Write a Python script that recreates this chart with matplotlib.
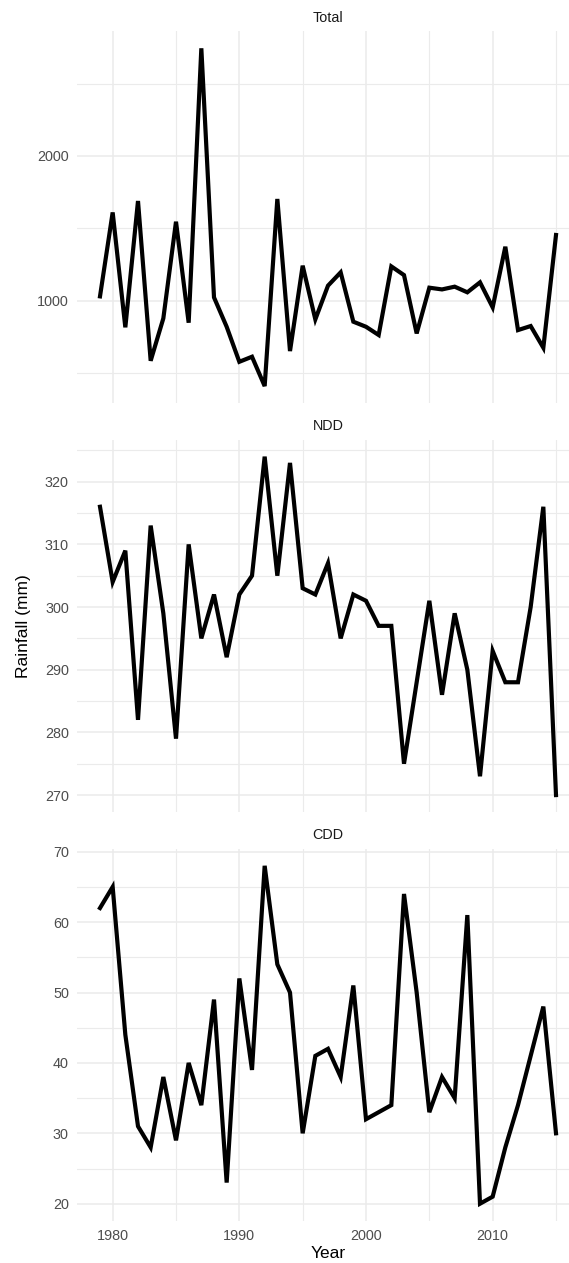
import matplotlib
matplotlib.use("Agg")
import matplotlib.pyplot as plt
from matplotlib.ticker import MultipleLocator

plt.rcParams['font.family'] = ['Liberation Sans', 'DejaVu Sans']

# donnees
years = list(range(1979, 2016))
total = [1030, 1610, 816, 1689, 585, 878, 1546, 848, 2744, 1023,
         820, 578, 613, 410, 1703, 652, 1242, 871, 1104, 1196,
         855, 820, 763, 1237, 1177, 774, 1090, 1078, 1097, 1058,
         1127, 954, 1373, 797, 825, 675, 1454]
ndd = [316, 304, 309, 282, 313, 299, 279, 310, 295, 302,
       292, 302, 305, 324, 305, 323, 303, 302, 307, 295,
       302, 301, 297, 297, 275, 288, 301, 286, 299, 290,
       273, 293, 288, 288, 300, 316, 270]
cdd = [62, 65, 44, 31, 28, 38, 29, 40, 34, 49,
       23, 52, 39, 68, 54, 50, 30, 41, 42, 38,
       51, 32, 33, 34, 64, 50, 33, 38, 35, 61,
       20, 21, 28, 34, 41, 48, 30]

panels = [("Total", total, 1000, 500),
          ("NDD", ndd, 10, 5),
          ("CDD", cdd, 10, 5)]

W, H = 569, 1263
fig = plt.figure(figsize=(W / 100, H / 100), dpi=100)

# positions des panneaux en pixels (haut, bas)
tops = [31.4, 439.7, 848.9]
bots = [403.0, 812.0, 1220.6]
x0, x1 = 77.2, 578.8

grid_col = "#EBEBEB"
for i, (nom, vals, maj, mino) in enumerate(panels):
    ax = fig.add_axes([x0 / W, 1 - bots[i] / H, (x1 - x0) / W, (bots[i] - tops[i]) / H])
    ax.plot(years, vals, color="black", lw=3.0, solid_joinstyle="miter", zorder=3)
    lo, hi = min(vals), max(vals)
    pad = (hi - lo) * 0.05
    ax.set_ylim(lo - pad, hi + pad)
    ax.set_xlim(1979 - 1.8, 2015 + 1.8)
    ax.yaxis.set_major_locator(MultipleLocator(maj))
    ax.yaxis.set_minor_locator(MultipleLocator(mino))
    ax.xaxis.set_major_locator(MultipleLocator(10))
    ax.xaxis.set_minor_locator(MultipleLocator(5))
    ax.grid(which="major", color=grid_col, lw=1.1)
    ax.grid(which="minor", color=grid_col, lw=0.8)
    ax.set_axisbelow(True)
    for s in ax.spines.values():
        s.set_visible(False)
    ax.tick_params(which="both", length=0, labelsize=10.4, labelcolor="#4D4D4D", pad=6)
    if i < 2:
        ax.tick_params(axis="x", labelbottom=False)
    ax.set_title(nom, fontsize=10.4, color="#1A1A1A", pad=7)

fig.text(0.5 * (x0 + x1) / W, 1 - 1253 / H, "Year",
         ha="center", va="center", fontsize=12.5)
fig.text(24 / W, 1 - 626 / H, "Rainfall (mm)", rotation=90,
         ha="center", va="center", fontsize=12.5)

fig.savefig("out.png", dpi=100)
